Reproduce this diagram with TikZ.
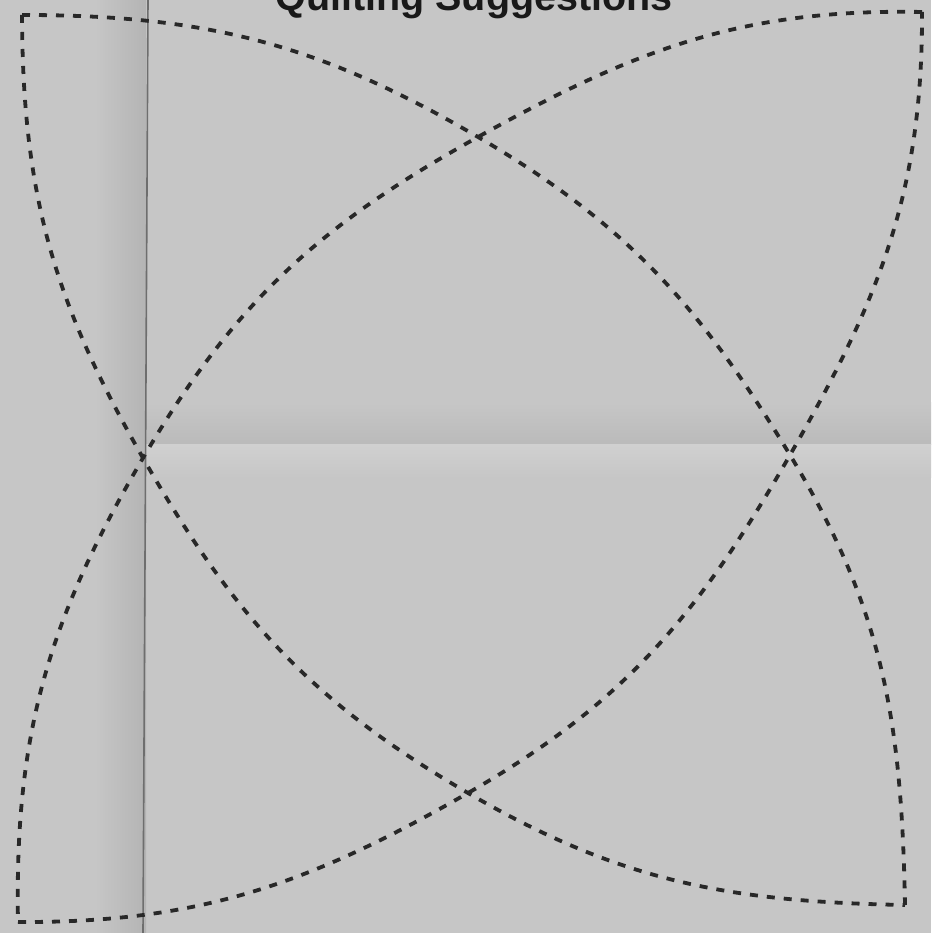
\documentclass[tikz,border=0pt]{standalone}
\usepackage{fontspec}
\setmainfont{Liberation Sans}
\definecolor{paper}{RGB}{198,198,198}
\definecolor{paperdark}{RGB}{180,180,180}
\definecolor{bandark}{RGB}{186,186,186}
\definecolor{paperlight}{RGB}{208,208,208}
\definecolor{ink}{RGB}{40,40,40}
\definecolor{foldline}{RGB}{110,110,110}
\tikzset{
  stitch/.style={draw=ink, line width=3.8pt, dash pattern=on 8pt off 9pt},
  titletext/.style={font=\bfseries\fontsize{39.5}{44}\selectfont, text=black!90, inner sep=0pt, anchor=base}
}
\begin{document}
\begin{tikzpicture}[x=1pt,y=1pt]
\useasboundingbox (0,0) rectangle (931,933);
\clip (0,0) rectangle (931,933);
% paper
\fill[paper] (0,0) rectangle (931,933);
\shade[left color=paper, right color=paperdark] (95,0) rectangle (146,933);
\shade[top color=paper, bottom color=bandark] (146,488) rectangle (931,530);
\shade[top color=paperlight, bottom color=paper] (146,455) rectangle (931,488);
% fold line
\coordinate (foldtop) at (148,933);
\coordinate (foldbot) at (143,0);
\draw[foldline, line width=1.6pt] (foldtop) -- (foldbot);
% title
\node[titletext] (title) at (474,922) {Quilting Suggestions};
% corners and crossings
\coordinate (TL) at (22,918);
\coordinate (TR) at (922,921);
\coordinate (BL) at (18,11);
\coordinate (BR) at (905,28);
\coordinate (IT) at (478,796);
\coordinate (IR) at (790,478);
\coordinate (IB) at (468,140);
\coordinate (IL) at (143,475);
% arc centred near BL
\draw[stitch] (TL) to[out=0, in=149.6] (IT) to[out=-30.4, in=121.2] (IR) to[out=-58.8, in=91.1] (BR);
% arc centred near BR
\draw[stitch] (TR) to[out=178.9, in=29.1] (IT) to[out=209.1, in=59.6] (IL) to[out=239.6, in=91.1] (BL);
% arc centred near TR
\draw[stitch] (TL) to[out=-89.8, in=119.8] (IL) to[out=-60.2, in=149.8] (IB) to[out=-30.2, in=178.9] (BR);
% arc centred near TL
\draw[stitch] (BL) to[out=-0.3, in=209.8] (IB) to[out=29.8, in=240.2] (IR) to[out=60.2, in=270.2] (TR);
\end{tikzpicture}
\end{document}
